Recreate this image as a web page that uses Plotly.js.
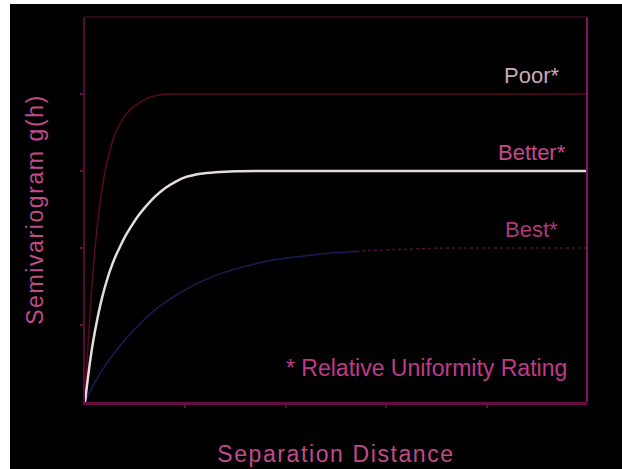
<!DOCTYPE html>
<html>
<head>
<meta charset="utf-8">
<script src="https://cdn.plot.ly/plotly-3.0.1.min.js"></script>
<style>
  html, body { margin: 0; padding: 0; background: #ffffff; width: 622px; height: 469px; overflow: hidden; }
  #chart { position: absolute; left: 10px; top: 4px; width: 612px; height: 465px; }
  .xtitle, .ytitle { letter-spacing: 1.6px; }
</style>
</head>
<body>
<div id="chart"></div>
<script>
// Separation distance (x) and semivariogram values (y)
var poorX   = [0, 0.01, 0.02, 0.04, 0.06, 0.08, 0.1, 0.13, 0.16, 0.2, 0.25, 0.3, 0.35, 0.4, 0.46, 0.52, 0.6, 0.68, 0.76, 0.85, 1, 5];
var poorY   = [0, 0.26, 0.5, 0.96, 1.36, 1.7, 2.0, 2.38, 2.68, 3.0, 3.28, 3.48, 3.62, 3.72, 3.81, 3.87, 3.93, 3.97, 3.99, 4.0, 4.0, 4.0];

var betterX = [0, 0.02, 0.05, 0.08, 0.12, 0.16, 0.2, 0.25, 0.3, 0.35, 0.4, 0.46, 0.52, 0.6, 0.7, 0.8, 0.9, 1.0, 1.15, 1.3, 1.5, 1.8, 5];
var betterY = [0, 0.22, 0.52, 0.78, 1.06, 1.3, 1.5, 1.71, 1.88, 2.02, 2.15, 2.28, 2.4, 2.53, 2.67, 2.78, 2.86, 2.92, 2.965, 2.985, 2.997, 3.0, 3.0];

var bestX   = [0, 0.04, 0.08, 0.14, 0.2, 0.3, 0.42, 0.55, 0.7, 0.85, 1.0, 1.2, 1.4, 1.65, 1.9, 2.2, 2.5, 2.7];
var bestY   = [0, 0.11, 0.21, 0.35, 0.47, 0.65, 0.84, 1.02, 1.2, 1.34, 1.46, 1.59, 1.69, 1.78, 1.85, 1.9, 1.94, 1.955];
var bestSillX = [2.7, 2.8, 3.2, 3.6, 5];
var bestSillY = [1.955, 1.965, 1.985, 2.0, 2.0];

var ratingLabels = ["Poor*", "Better*", "Best*"];
var ratingLevels = [4, 3, 2];
var noteText = "* Relative Uniformity Rating";
var xTitle = "Separation Distance";
var yTitle = "Semivariogram g(h)";

var traces = [
  {x: bestX, y: bestY, mode: "lines", line: {color: "#1c1a58", width: 1.5, shape: "spline", smoothing: 0.6}, hoverinfo: "skip"},
  {x: bestSillX, y: bestSillY, mode: "lines", line: {color: "#4a1238", width: 1.5, dash: "dot"}, hoverinfo: "skip"},
  {x: poorX, y: poorY, mode: "lines", line: {color: "#560a1c", width: 1.5, shape: "spline", smoothing: 0.6}, hoverinfo: "skip"},
  {x: betterX, y: betterY, mode: "lines", line: {color: "#e6dcdc", width: 2.5, shape: "spline", smoothing: 0.6}, hoverinfo: "skip"}
];

var labelColors = ["#c8a8bc", "#c8488c", "#b03878"];
var annotations = ratingLabels.map(function (t, i) {
  return {x: 4.45, y: ratingLevels[i] + 0.24, xref: "x", yref: "y", text: t, showarrow: false,
          xanchor: "center", yanchor: "middle",
          font: {family: "Liberation Sans, Arial, sans-serif", size: 22, color: labelColors[i]}};
});
annotations.push({x: 3.4, y: 0.44, xref: "x", yref: "y", text: noteText, showarrow: false,
  xanchor: "center", yanchor: "middle",
  font: {family: "Liberation Sans, Arial, sans-serif", size: 23, color: "#c03a8a"}});

var layout = {
  width: 612, height: 465,
  paper_bgcolor: "#000000", plot_bgcolor: "#000000",
  margin: {l: 75, r: 35, t: 13, b: 67},
  showlegend: false,
  xaxis: {
    range: [0, 5], showgrid: false, zeroline: false,
    showline: true, linecolor: "#6a0c44", linewidth: 3,
    ticks: "outside", ticklen: 3, tickwidth: 2, tickcolor: "#6a0c44",
    tickvals: [1, 2, 3, 4], showticklabels: false,
    title: {text: xTitle, standoff: 39,
      font: {family: "Liberation Sans, Arial, sans-serif", size: 23, color: "#c04a8c"}}
  },
  yaxis: {
    range: [0, 5], showgrid: false, zeroline: false,
    showline: true, linecolor: "#560a36", linewidth: 2.5,
    ticks: "outside", ticklen: 3, tickwidth: 2, tickcolor: "#6a0c44",
    tickvals: [1, 2, 3, 4], showticklabels: false,
    title: {text: yTitle, standoff: 30,
      font: {family: "Liberation Sans, Arial, sans-serif", size: 23, color: "#c04a8c"}}
  },
  shapes: [
    {type: "line", xref: "paper", yref: "paper", x0: 1, x1: 1, y0: 0, y1: 1,
     line: {color: "#8a1062", width: 2}},
    {type: "line", xref: "paper", yref: "paper", x0: 0, x1: 1, y0: 1, y1: 1,
     line: {color: "#3c0a26", width: 1.5}}
  ],
  annotations: annotations
};

Plotly.newPlot("chart", traces, layout, {displayModeBar: false, staticPlot: true});
</script>
</body>
</html>
